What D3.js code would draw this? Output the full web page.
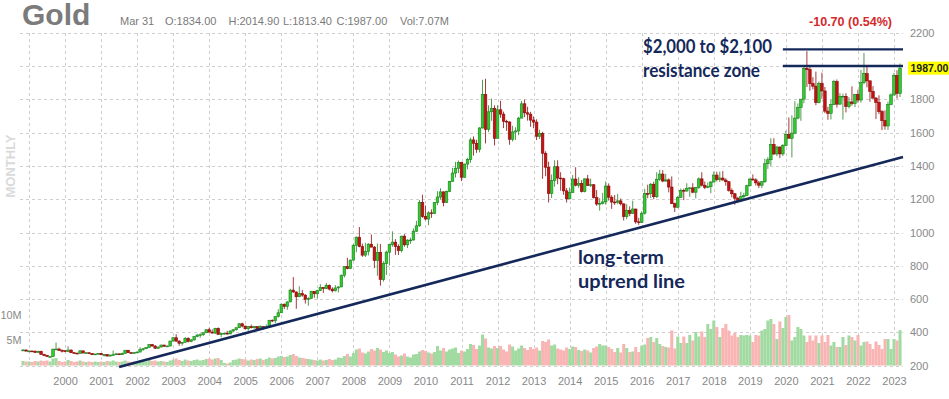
<!DOCTYPE html>
<html>
<head>
<meta charset="utf-8">
<script src="https://cdn.jsdelivr.net/npm/d3@7"></script>
<style>
  body { margin: 0; background: #fff; }
  svg { display: block; font-family: Arial, "Liberation Sans", sans-serif; }
  .grid line { stroke: #cfcfcf; stroke-dasharray: 3,3; shape-rendering: crispEdges; }
  .axis-label { fill: #888; font-size: 11px; }
  .note { fill: #14285a; font-family: Lato, "Open Sans", sans-serif; font-weight: 700; }
</style>
</head>
<body>
<svg id="chart" width="949" height="399"></svg>
<script>
// monthly bars, first bar = Nov 1998, last bar = Mar 2023
const firstMonth = { year: 1998, month: 10 };

const opens = [
  292, 294,
  288, 288, 287, 280, 286, 268, 262, 255, 255, 299, 300, 292,
  290, 285, 294, 278, 275, 274, 289, 276, 278, 274, 266, 270,
  274, 266, 267, 258, 264, 266, 271, 266, 273, 293, 278, 275,
  279, 282, 297, 302, 309, 327, 318, 305, 312, 324, 317, 318,
  348, 368, 348, 335, 340, 364, 346, 355, 375, 384, 386, 398,
  416, 402, 396, 424, 387, 395, 395, 391, 408, 416, 428, 452,
  438, 422, 435, 428, 436, 417, 435, 429, 433, 473, 470, 495,
  518, 569, 556, 583, 654, 643, 614, 633, 624, 599, 604, 647,
  632, 651, 670, 663, 683, 660, 650, 667, 673, 743, 795, 783,
  834, 923, 972, 916, 864, 885, 930, 912, 833, 880, 718, 814,
  882, 928, 942, 916, 891, 978, 926, 954, 955, 1008, 1040, 1181,
  1096, 1081, 1118, 1115, 1180, 1213, 1244, 1180, 1247, 1307, 1357, 1386,
  1421, 1332, 1411, 1439, 1556, 1536, 1500, 1628, 1828, 1620, 1725, 1746,
  1566, 1737, 1711, 1668, 1664, 1560, 1604, 1610, 1687, 1773, 1719, 1711,
  1675, 1663, 1578, 1595, 1476, 1392, 1234, 1312, 1395, 1327, 1323, 1250,
  1202, 1240, 1321, 1284, 1295, 1246, 1322, 1282, 1287, 1210, 1171, 1175,
  1184, 1279, 1212, 1183, 1182, 1190, 1172, 1095, 1132, 1114, 1141, 1064,
  1060, 1116, 1234, 1233, 1290, 1215, 1320, 1351, 1309, 1316, 1273, 1173,
  1152, 1211, 1253, 1249, 1266, 1268, 1242, 1270, 1322, 1284, 1271, 1275,
  1303, 1345, 1318, 1327, 1315, 1305, 1253, 1233, 1206, 1192, 1215, 1222,
  1281, 1321, 1316, 1298, 1284, 1305, 1413, 1437, 1529, 1472, 1513, 1472,
  1523, 1589, 1566, 1597, 1687, 1751, 1801, 1986, 1978, 1895, 1879, 1780,
  1895, 1850, 1729, 1716, 1768, 1906, 1771, 1817, 1818, 1757, 1784, 1775,
  1829, 1796, 1900, 1954, 1911, 1848, 1807, 1782, 1726, 1672, 1640, 1768,
  1826, 1944, 1834
];

const highs = [
  300, 298,
  293, 291, 292, 291, 290, 272, 265, 259, 304, 339, 308, 298,
  293, 316, 298, 283, 279, 294, 292, 280, 280, 274, 272, 276,
  275, 269, 269, 266, 291, 277, 273, 279, 294, 294, 281, 281,
  285, 311, 304, 311, 329, 331, 324, 315, 327, 326, 322, 350,
  372, 389, 352, 342, 372, 371, 361, 377, 392, 394, 400, 418,
  428, 418, 428, 430, 398, 398, 409, 414, 420, 430, 455, 458,
  441, 438, 447, 439, 437, 443, 437, 448, 475, 478, 497, 540,
  575, 574, 587, 662, 732, 645, 677, 655, 630, 612, 650, 648,
  656, 690, 672, 697, 688, 671, 684, 677, 748, 797, 848, 838,
  932, 976, 1033, 933, 938, 936, 988, 919, 934, 931, 828, 891,
  931, 1007, 960, 929, 980, 990, 960, 969, 1024, 1070, 1195, 1227,
  1162, 1128, 1139, 1182, 1248, 1266, 1246, 1252, 1310, 1388, 1424, 1432,
  1424, 1413, 1448, 1569, 1577, 1557, 1632, 1917, 1923, 1764, 1804, 1764,
  1764, 1791, 1726, 1677, 1667, 1641, 1632, 1695, 1790, 1798, 1755, 1725,
  1697, 1680, 1617, 1605, 1488, 1425, 1348, 1434, 1434, 1362, 1329, 1267,
  1270, 1345, 1392, 1332, 1315, 1326, 1346, 1324, 1290, 1255, 1206, 1238,
  1307, 1295, 1224, 1225, 1232, 1205, 1175, 1170, 1157, 1191, 1143, 1088,
  1128, 1263, 1287, 1298, 1305, 1362, 1377, 1375, 1352, 1325, 1337, 1180,
  1220, 1264, 1264, 1296, 1272, 1296, 1272, 1331, 1362, 1306, 1300, 1310,
  1366, 1365, 1365, 1369, 1326, 1309, 1265, 1237, 1215, 1245, 1238, 1287,
  1326, 1349, 1326, 1310, 1309, 1443, 1453, 1566, 1566, 1521, 1518, 1531,
  1611, 1691, 1704, 1788, 1775, 1796, 2006, 2089, 2000, 1933, 1966, 1908,
  1960, 1874, 1755, 1798, 1917, 1919, 1837, 1834, 1837, 1813, 1878, 1833,
  1857, 1976, 2078, 2003, 1912, 1879, 1814, 1824, 1735, 1734, 1786, 1836,
  1959, 1975, 2014.9
];

const lows = [
  290, 284,
  283, 284, 278, 278, 267, 257, 252, 252, 254, 296, 289, 279,
  281, 282, 276, 273, 269, 272, 275, 271, 270, 264, 264, 268,
  263, 255, 256, 255, 262, 264, 264, 265, 271, 277, 271, 272,
  277, 281, 289, 299, 307, 315, 301, 300, 310, 313, 314, 317,
  346, 343, 320, 320, 338, 340, 341, 350, 371, 368, 379, 396,
  399, 393, 390, 386, 371, 385, 387, 388, 400, 411, 426, 430,
  417, 410, 424, 422, 415, 414, 417, 428, 432, 462, 456, 489,
  516, 540, 536, 581, 637, 542, 612, 614, 573, 560, 603, 608,
  604, 649, 637, 662, 652, 640, 646, 640, 671, 730, 779, 780,
  830, 881, 911, 854, 853, 862, 912, 786, 740, 681, 705, 745,
  801, 914, 866, 865, 880, 915, 907, 932, 952, 1003, 1035, 1088,
  1074, 1044, 1088, 1111, 1164, 1198, 1157, 1177, 1242, 1307, 1330, 1357,
  1309, 1329, 1380, 1419, 1462, 1478, 1481, 1624, 1535, 1604, 1671, 1523,
  1564, 1689, 1627, 1611, 1527, 1547, 1556, 1584, 1686, 1693, 1672, 1635,
  1626, 1555, 1562, 1322, 1338, 1180, 1207, 1275, 1290, 1251, 1226, 1180,
  1200, 1238, 1277, 1268, 1240, 1241, 1280, 1273, 1204, 1160, 1131, 1168,
  1167, 1192, 1142, 1166, 1170, 1162, 1072, 1080, 1098, 1112, 1052, 1046,
  1058, 1107, 1206, 1207, 1200, 1207, 1310, 1302, 1304, 1241, 1171, 1123,
  1146, 1208, 1194, 1245, 1214, 1236, 1205, 1262, 1277, 1260, 1266, 1236,
  1302, 1307, 1303, 1312, 1281, 1245, 1211, 1167, 1180, 1182, 1196, 1221,
  1276, 1311, 1282, 1267, 1267, 1298, 1382, 1400, 1465, 1458, 1447, 1459,
  1518, 1565, 1451, 1590, 1680, 1671, 1776, 1874, 1851, 1860, 1764, 1775,
  1803, 1717, 1677, 1679, 1766, 1750, 1767, 1678, 1721, 1746, 1762, 1753,
  1780, 1780, 1891, 1872, 1785, 1805, 1681, 1711, 1615, 1618, 1616, 1765,
  1823, 1805, 1813.4
];

const closes = [
  294, 288,
  288, 287, 280, 286, 268, 262, 255, 255, 299, 300, 292, 290,
  285, 294, 278, 275, 274, 289, 276, 278, 274, 266, 270, 274,
  266, 267, 258, 264, 266, 271, 266, 273, 293, 278, 275, 279,
  282, 297, 302, 309, 327, 318, 305, 312, 324, 317, 318, 348,
  368, 348, 335, 340, 364, 346, 355, 375, 384, 386, 398, 416,
  402, 396, 424, 387, 395, 395, 391, 408, 416, 428, 452, 438,
  422, 435, 428, 436, 417, 435, 429, 433, 473, 470, 495, 518,
  569, 556, 583, 654, 643, 614, 633, 624, 599, 604, 647, 632,
  651, 670, 663, 683, 660, 650, 667, 673, 743, 795, 783, 834,
  923, 972, 916, 864, 885, 930, 912, 833, 880, 718, 814, 882,
  928, 942, 916, 891, 978, 926, 954, 955, 1008, 1040, 1181, 1096,
  1081, 1118, 1115, 1180, 1213, 1244, 1180, 1247, 1307, 1357, 1386, 1421,
  1332, 1411, 1439, 1556, 1536, 1500, 1628, 1828, 1620, 1725, 1746, 1566,
  1737, 1711, 1668, 1664, 1560, 1604, 1610, 1687, 1773, 1719, 1711, 1675,
  1663, 1578, 1595, 1476, 1392, 1234, 1312, 1395, 1327, 1323, 1250, 1202,
  1240, 1321, 1284, 1295, 1246, 1322, 1282, 1287, 1210, 1171, 1175, 1184,
  1279, 1212, 1183, 1182, 1190, 1172, 1095, 1132, 1114, 1141, 1064, 1060,
  1116, 1234, 1233, 1290, 1215, 1320, 1351, 1309, 1316, 1273, 1173, 1152,
  1211, 1253, 1249, 1266, 1268, 1242, 1270, 1322, 1284, 1271, 1275, 1303,
  1345, 1318, 1327, 1315, 1305, 1253, 1233, 1206, 1192, 1215, 1222, 1281,
  1321, 1316, 1298, 1284, 1305, 1413, 1437, 1529, 1472, 1513, 1472, 1523,
  1589, 1566, 1597, 1687, 1751, 1801, 1986, 1978, 1895, 1879, 1780, 1895,
  1850, 1729, 1716, 1768, 1906, 1771, 1817, 1818, 1757, 1784, 1775, 1829,
  1796, 1900, 1954, 1911, 1848, 1807, 1782, 1726, 1672, 1640, 1768, 1826,
  1944, 1836, 1987
];

// volume in millions
const volumes = [
  0.9, 0.8,
  0.8, 0.7, 0.9, 0.8, 1.0, 0.9, 1.0, 0.8, 1.4, 1.5, 0.9, 0.7,
  0.8, 1.1, 0.9, 0.7, 0.8, 1.0, 0.8, 0.7, 0.8, 0.7, 0.8, 0.7,
  0.8, 0.7, 0.9, 0.8, 1.0, 0.8, 0.7, 0.8, 1.0, 0.8, 0.7, 0.8,
  0.8, 1.0, 0.9, 0.8, 1.1, 0.9, 1.0, 0.8, 0.9, 0.8, 0.7, 1.0,
  1.2, 1.4, 1.1, 0.9, 1.2, 1.0, 0.9, 1.1, 1.2, 1.0, 1.1, 1.3,
  1.4, 1.2, 1.4, 1.5, 1.1, 0.5, 0.4, 0.6, 1.1, 1.2, 1.4, 1.3,
  1.2, 1.0, 1.2, 1.1, 1.3, 1.4, 1.1, 1.3, 1.6, 1.4, 1.5, 1.8,
  1.9, 1.7, 1.8, 2.1, 2.3, 1.9, 1.6, 1.5, 1.4, 1.3, 1.2, 1.1,
  1.0, 1.2, 1.0, 1.1, 1.3, 1.1, 1.2, 1.6, 1.5, 1.9, 2.3, 1.8,
  2.5, 3.2, 3.4, 2.6, 2.4, 2.8, 3.3, 3.0, 3.5, 3.2, 2.7, 3.0,
  2.5, 2.7, 2.2, 1.8, 2.0, 2.4, 1.8, 1.6, 2.2, 2.3, 2.8, 3.1,
  2.9, 2.6, 2.4, 2.7, 3.9, 3.0, 3.5, 2.8, 3.2, 3.4, 3.6, 2.5,
  3.0, 2.8, 3.3, 4.3, 4.1, 3.3, 4.0, 6.2, 5.4, 3.6, 3.4, 3.9,
  3.5, 3.9, 3.2, 2.8, 4.2, 3.8, 3.0, 3.4, 4.0, 3.5, 3.1, 3.7,
  3.3, 3.6, 3.0, 4.9, 4.7, 5.2, 4.0, 4.2, 3.4, 3.2, 3.0, 3.6,
  3.3, 3.8, 3.7, 3.1, 2.9, 3.2, 3.0, 2.6, 3.5, 3.8, 4.3, 4.0,
  4.0, 3.7, 3.3, 2.7, 3.5, 2.6, 4.3, 3.5, 2.7, 2.8, 3.7, 2.7,
  4.0, 4.2, 5.5, 5.7, 4.7, 5.5, 4.3, 3.9, 3.7, 3.6, 7.0, 3.4,
  5.8, 4.5, 5.8, 4.5, 6.1, 5.0, 6.7, 5.8, 6.8, 5.7, 8.3, 7.3,
  9.0, 7.7, 5.7, 7.5, 8.3, 7.0, 6.0, 6.5, 5.7, 6.1, 6.0, 6.1,
  6.0, 4.7, 6.1, 6.0, 7.0, 7.3, 9.0, 9.3, 8.3, 5.3, 8.8, 7.5,
  9.7, 10.1, 5.0, 5.7, 7.7, 7.3, 6.0, 4.7, 6.0, 5.0, 6.0, 4.5,
  6.0, 4.7, 6.1, 4.0, 4.7, 3.7, 3.7, 5.7, 4.1, 6.0, 5.7, 5.0,
  6.1, 4.0, 4.7, 4.8, 4.3, 3.3, 4.8, 4.1, 3.3, 5.3, 5.3, 3.3,
  5.3, 5.0, 7.07
];

const yearTicks = d3.range(1999, 2024);
const priceTicks = d3.range(200, 2201, 200);
const volumeTicks = [5, 10];

// annotations, as [month index, price]
const trendLine = [[32, 192], [293, 1453]];
const resistanceLevels = [2000, 2100];
const resistanceSpan = [253, 293];

const lastClose = 1987.00;
const dayChange = '-10.70 (0.54%)';

const bars = closes.map((c, i) => ({
  i, o: opens[i], h: highs[i], l: lows[i], c, v: volumes[i], up: c >= opens[i]
}));

const svg = d3.select('#chart');

const x = d3.scaleLinear().domain([0, bars.length - 1]).range([23, 900]);
const y = d3.scaleLinear().domain([200, 2200]).range([365.7, 32.7]);
const yVol = d3.scaleLinear().domain([0, 10]).range([365.5, 315.5]);
const yearIndex = yr => (yr - firstMonth.year) * 12 - firstMonth.month;

// grid
const grid = svg.append('g').attr('class', 'grid');
grid.selectAll('.hg').data(priceTicks).enter().append('line')
  .attr('x1', 20).attr('x2', 903)
  .attr('y1', d => Math.round(y(d)) + 0.5).attr('y2', d => Math.round(y(d)) + 0.5);
grid.selectAll('.vg').data(yearTicks).enter().append('line')
  .attr('x1', d => Math.round(x(yearIndex(d))) + 0.5).attr('x2', d => Math.round(x(yearIndex(d))) + 0.5)
  .attr('y1', 33).attr('y2', 366);

// volume
svg.append('g').selectAll('rect').data(bars).enter().append('rect')
  .attr('x', d => x(d.i) - 1.5)
  .attr('width', 3.05)
  .attr('y', d => yVol(d.v))
  .attr('height', d => yVol(0) - yVol(d.v))
  .attr('fill', d => d.up ? '#a2dba2' : '#f9b4b4');

// candles
const candles = svg.append('g').selectAll('g').data(bars).enter().append('g');
candles.append('line')
  .attr('x1', d => x(d.i)).attr('x2', d => x(d.i))
  .attr('y1', d => y(d.h)).attr('y2', d => y(d.l))
  .attr('stroke', d => d.up ? '#4f9a4f' : '#a33a3a')
  .attr('stroke-width', 1);
candles.append('rect')
  .attr('x', d => x(d.i) - 1.3)
  .attr('width', 2.6)
  .attr('y', d => y(Math.max(d.o, d.c)))
  .attr('height', d => Math.max(0.8, Math.abs(y(d.o) - y(d.c))))
  .attr('fill', d => d.up ? '#2fcc2f' : '#c41111')
  .attr('stroke', d => d.up ? '#1c7d1c' : '#8a0a0a')
  .attr('stroke-width', 0.6);

// axes
const xAxis = svg.append('g')
  .attr('transform', 'translate(0,374)')
  .call(d3.axisBottom(x)
    .tickValues(yearTicks.filter(yr => yr >= 2000).map(yearIndex))
    .tickSize(0)
    .tickFormat(i => firstMonth.year + Math.floor((i + firstMonth.month) / 12)));
xAxis.select('.domain').remove();
xAxis.selectAll('text').attr('class', 'axis-label').attr('fill', null).attr('dy', '0.71em');

const yAxis = svg.append('g')
  .attr('transform', 'translate(910,0)')
  .call(d3.axisRight(y)
    .tickValues(priceTicks.filter(p => Math.abs(y(p) - y(lastClose)) > 10))
    .tickFormat(d3.format('d'))
    .tickSize(0).tickPadding(0));
yAxis.select('.domain').remove();
yAxis.selectAll('text').attr('class', 'axis-label').attr('fill', null);

svg.append('g').selectAll('text').data(volumeTicks).enter().append('text')
  .attr('class', 'axis-label')
  .attr('x', 21.5).attr('y', d => yVol(d))
  .attr('dy', '0.35em').attr('text-anchor', 'end')
  .style('font-size', '10.8px')
  .text(d => d + 'M');

// last price tag
svg.append('rect')
  .attr('x', 908).attr('y', y(lastClose) - 6.5)
  .attr('width', 41).attr('height', 13)
  .attr('fill', '#ffff00');
svg.append('text')
  .attr('x', 910.5).attr('y', y(lastClose))
  .attr('dy', '0.35em')
  .style('font-size', '10.5px').style('font-weight', 'bold').attr('fill', '#222')
  .text(lastClose.toFixed(2));

// header
svg.append('text').attr('x', 22).attr('y', 25)
  .style('font-size', '30px').style('font-weight', 'bold').attr('fill', '#7b7b7b')
  .text('Gold');
const header = [
  [120, 'Mar 31'], [165, 'O:1834.00'], [228.5, 'H:2014.90'],
  [283, 'L:1813.40'], [336.5, 'C:1987.00'], [400, 'Vol:7.07M']
];
svg.append('g').selectAll('text').data(header).enter().append('text')
  .attr('x', d => d[0]).attr('y', 25)
  .style('font-size', '11px').attr('fill', '#7a7a7a')
  .text(d => d[1]);

svg.append('text').attr('x', 809).attr('y', 26)
  .attr('textLength', 83).attr('lengthAdjust', 'spacingAndGlyphs')
  .style('font-size', '13.5px').style('font-weight', 'bold').attr('fill', '#d42a2a')
  .text(dayChange);

svg.append('text')
  .attr('transform', 'translate(15,166) rotate(-90)')
  .attr('text-anchor', 'middle')
  .style('font-size', '13px').style('font-weight', 'bold').attr('fill', '#dadada')
  .text('MONTHLY');

// annotation lines
const navy = '#14285a';
svg.append('line')
  .attr('x1', x(trendLine[0][0])).attr('y1', y(trendLine[0][1]))
  .attr('x2', x(trendLine[1][0])).attr('y2', y(trendLine[1][1]))
  .attr('stroke', navy).attr('stroke-width', 2.6);
svg.append('g').selectAll('line').data(resistanceLevels).enter().append('line')
  .attr('x1', x(resistanceSpan[0])).attr('x2', x(resistanceSpan[1]))
  .attr('y1', d => y(d)).attr('y2', d => y(d))
  .attr('stroke', navy).attr('stroke-width', 2.4);

const notes = [
  { x: 643, y: 53, size: 19, w: 129, t: '$2,000 to $2,100' },
  { x: 643, y: 77, size: 19, w: 117, t: 'resistance zone' },
  { x: 578, y: 264, size: 18, w: 86, t: 'long-term' },
  { x: 578, y: 288, size: 18, w: 107, t: 'uptrend line' }
];
svg.append('g').selectAll('text').data(notes).enter().append('text')
  .attr('class', 'note')
  .attr('x', d => d.x).attr('y', d => d.y)
  .attr('textLength', d => d.w).attr('lengthAdjust', 'spacingAndGlyphs')
  .style('font-size', d => d.size + 'px')
  .text(d => d.t);
</script>
</body>
</html>
